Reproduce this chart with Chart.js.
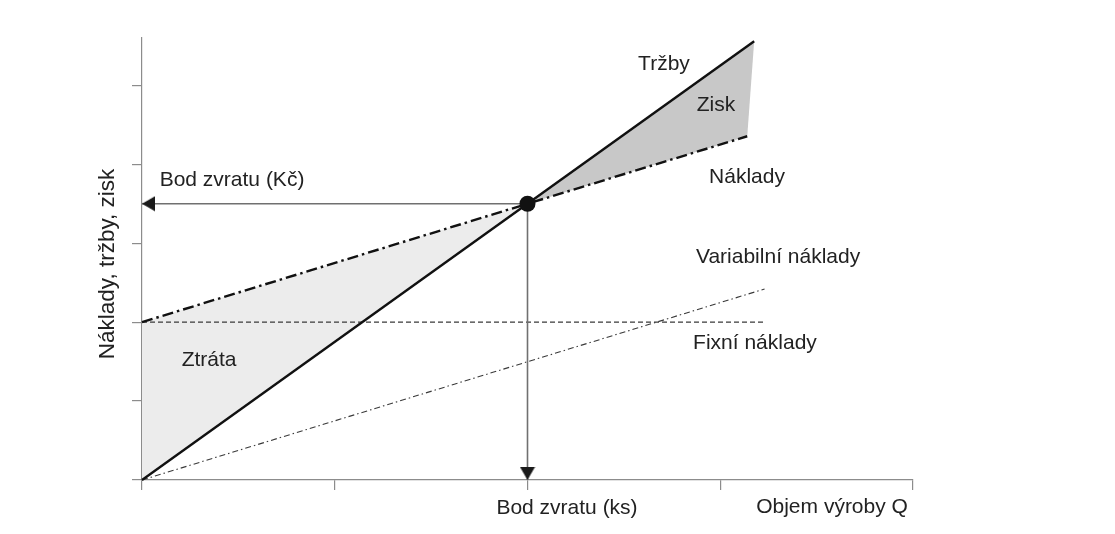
<!DOCTYPE html>
<html><head><meta charset="utf-8">
<script src="https://cdn.jsdelivr.net/npm/chart.js@4"></script>
<style>html,body{margin:0;padding:0;background:#fff}#wrap{width:1115px;height:534px;position:relative}</style>
</head><body><div id="wrap"><canvas id="c"></canvas></div>
<script>
// ---- data ----
const xTickValues = [0, 1, 2, 3, 4];
const yTickValues = [0, 1, 2, 3, 4, 5];
const salesX = [0, 3.176], salesY = [0, 5.558];      // Tržby
const costX = [0, 3.14], costY = [2, 4.355];         // Náklady
const varX = [0, 3.23], varY = [0, 2.42];            // Variabilní náklady
const fixedX = [0, 3.23], fixedY = [2, 2];           // Fixní náklady
const breakEvenX = 2, breakEvenY = 3.5;              // Bod zvratu
const yAxisTitle = 'Náklady, tržby, zisk';
const labelTexts = ['Tržby', 'Zisk', 'Náklady', 'Variabilní náklady', 'Fixní náklady', 'Ztráta', 'Bod zvratu (Kč)', 'Bod zvratu (ks)', 'Objem výroby Q'];

// ---- layout of annotation texts (data coordinates of text centres) ----
const labelPos = [[2.708, 5.266], [2.978, 4.747], [3.139, 3.835], [3.300, 2.823], [3.180, 1.734], [0.348, 1.519], [0.467, 3.797], [2.205, -0.354], [3.580, -0.342]];

const pts = (xs, ys) => xs.map((x, i) => ({x, y: ys[i]}));
const last = a => a[a.length - 1];

// arrow head image with the tip at the image centre (pointing down)
const arrow = document.createElement('canvas');
arrow.width = 16; arrow.height = 28;
{ const g = arrow.getContext('2d'); g.fillStyle = '#1a1a1a'; g.beginPath(); g.moveTo(0.5, 1); g.lineTo(15.5, 1); g.lineTo(8, 14); g.closePath(); g.fill(); }

const FONT = '"Liberation Sans", Arial, Helvetica, sans-serif';

const textPlugin = {
  id: 'texts',
  afterDatasetsDraw(chart) {
    const {ctx, scales: {x, y}} = chart;
    ctx.save();
    ctx.fillStyle = '#222';
    ctx.font = '21px ' + FONT;
    ctx.textAlign = 'center';
    ctx.textBaseline = 'middle';
    labelTexts.forEach((t, i) => {
      ctx.fillText(t, x.getPixelForValue(labelPos[i][0]), y.getPixelForValue(labelPos[i][1]));
    });
    // y axis title
    ctx.translate(y.left + 108, (y.top + y.bottom) / 2 + 5);
    ctx.rotate(-Math.PI / 2);
    ctx.font = '22.5px ' + FONT;
    ctx.fillText(yAxisTitle, 0, 0);
    ctx.restore();
  }
};

const noTicks = (scale) => { scale.ticks = scale.ticks.filter(t => Number.isInteger(t.value)); };

new Chart(document.getElementById('c'), {
  type: 'line',
  data: {
    datasets: [
      { data: [{x: breakEvenX, y: breakEvenY}], showLine: false, pointRadius: 8, pointBackgroundColor: '#111', pointBorderWidth: 0 },
      { data: [{x: breakEvenX, y: breakEvenY}, {x: breakEvenX, y: 0}], borderColor: '#707070', borderWidth: 1.6,
        pointRadius: [0, 6], pointStyle: ['circle', arrow], pointRotation: 0 },
      { data: [{x: breakEvenX, y: breakEvenY}, {x: 0, y: breakEvenY}], borderColor: '#707070', borderWidth: 1.6,
        pointRadius: [0, 6], pointStyle: ['circle', arrow], pointRotation: 90 },
      { data: pts(salesX, salesY), borderColor: '#111', borderWidth: 2.4, pointRadius: 0 },
      { data: pts(costX, costY), borderColor: '#111', borderWidth: 2.4, borderDash: [11, 4, 2.5, 4], pointRadius: 0 },
      { data: pts(varX, varY), borderColor: '#3a3a3a', borderWidth: 1.1, borderDash: [6, 3, 1.5, 3], pointRadius: 0 },
      { data: pts(fixedX, fixedY), borderColor: '#3a3a3a', borderWidth: 1.1, borderDash: [5, 3], pointRadius: 0 },
      { data: [{x: breakEvenX, y: breakEvenY}, {x: last(salesX), y: last(salesY)}, {x: last(costX), y: last(costY)}],
        borderWidth: 0, pointRadius: 0, fill: 'shape', backgroundColor: '#c8c8c8' },
      { data: [{x: salesX[0], y: salesY[0]}, {x: breakEvenX, y: breakEvenY}, {x: costX[0], y: costY[0]}],
        borderWidth: 0, pointRadius: 0, fill: 'shape', backgroundColor: '#ececec' }
    ]
  },
  options: {
    responsive: true, maintainAspectRatio: false, animation: false,
    layout: { padding: { left: 0, top: 38, right: 202, bottom: 0 } },
    datasets: { line: { tension: 0, clip: false } },
    plugins: { legend: { display: false }, tooltip: { enabled: false } },
    scales: {
      x: {
        type: 'linear', min: xTickValues[0], max: last(xTickValues), z: 1,
        ticks: { stepSize: 1, display: false },
        afterBuildTicks: noTicks,
        afterFit: s => { s.height = 54; },
        grid: { drawOnChartArea: false, drawTicks: true, tickLength: 10, color: '#8c8c8c', lineWidth: 1.2 },
        border: { color: '#8c8c8c', width: 1.2 }
      },
      y: {
        type: 'linear', min: yTickValues[0], max: 5.6, z: 1,
        ticks: { stepSize: 1, display: false },
        afterBuildTicks: noTicks,
        afterFit: s => { s.width = 142; },
        grid: { drawOnChartArea: false, drawTicks: true, tickLength: 10, color: '#8c8c8c', lineWidth: 1.2 },
        border: { color: '#8c8c8c', width: 1.2 },
        title: { display: false, text: yAxisTitle }
      }
    }
  },
  plugins: [textPlugin]
});
</script>
</body></html>
